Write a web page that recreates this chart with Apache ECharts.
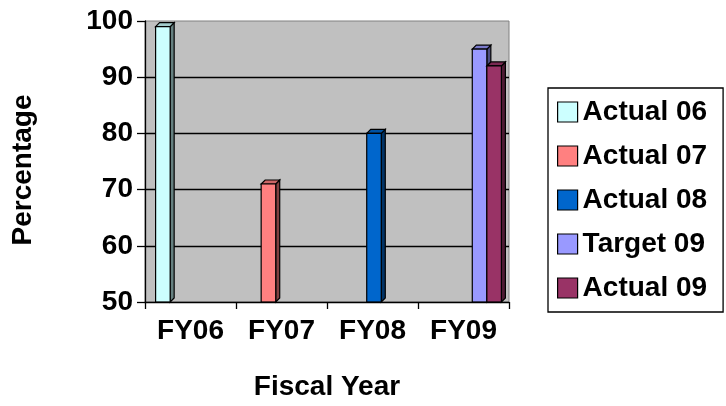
<!DOCTYPE html>
<html>
<head>
<meta charset="utf-8">
<script src="https://cdn.jsdelivr.net/npm/echarts@6/dist/echarts.min.js"></script>
<style>
html,body{margin:0;padding:0;background:#fff;}
#chart{width:726px;height:406px;}
</style>
</head>
<body>
<div id="chart"></div>
<script>
const categories = ['FY06', 'FY07', 'FY08', 'FY09'];
const seriesNames = ['Actual 06', 'Actual 07', 'Actual 08', 'Target 09', 'Actual 09'];
const actual06 = [99, null, null, null];
const actual07 = [null, 71, null, null];
const actual08 = [null, null, 80, null];
const target09 = [null, null, null, 95];
const actual09 = [null, null, null, 92];
const seriesValues = [actual06, actual07, actual08, target09, actual09];
const faceColors = ['#CCFFFF', '#FF8080', '#0066CC', '#9999FF', '#993366'];
const topColors = ['#A3CCCC', '#CC6666', '#0052A3', '#7A7ACC', '#7A2952'];
const sideColors = ['#668080', '#804040', '#003366', '#4D4D80', '#4D1A33'];

const FONT = '"Liberation Sans", Arial, sans-serif';
const N = seriesNames.length;

function makeRender(i) {
  return function (params, api) {
    const c = api.value(0);
    const v = api.value(1);
    const top = api.coord([c, v]);
    const base = api.coord([c, 50]);
    const catW = api.size([1, 0])[0];
    const barW = catW * 0.8 / N;
    const x0 = top[0] - catW * 0.4 + i * barW + 1.5;
    const x1 = x0 + barW;
    const yT = top[1];
    const yB = base[1];
    const d = 4;
    const stroke = {stroke: '#000', lineWidth: 1.2};
    return {
      type: 'group',
      children: [
        {type: 'polygon', shape: {points: [[x1, yT], [x1 + d, yT - d], [x1 + d, yB - d], [x1, yB]]},
         style: Object.assign({fill: sideColors[i]}, stroke)},
        {type: 'polygon', shape: {points: [[x0, yT], [x0 + d, yT - d], [x1 + d, yT - d], [x1, yT]]},
         style: Object.assign({fill: topColors[i]}, stroke)},
        {type: 'rect', shape: {x: x0, y: yT, width: barW, height: yB - yT},
         style: Object.assign({fill: faceColors[i]}, stroke)}
      ]
    };
  };
}

const chart = echarts.init(document.getElementById('chart'), null, {renderer: 'canvas'});
chart.setOption({
  backgroundColor: '#ffffff',
  animation: false,
  grid: {
    left: 145, right: 217, top: 21, bottom: 103,
    show: true,
    backgroundColor: '#C0C0C0',
    borderColor: '#808080',
    borderWidth: 1
  },
  legend: {
    orient: 'vertical',
    left: 548, top: 88,
    padding: [10, 16, 10, 9],
    itemGap: 16,
    itemWidth: 20, itemHeight: 20,
    itemTextGap: 9,
    borderColor: '#000', borderWidth: 1.3,
    backgroundColor: '#fff',
    icon: 'rect',
    itemStyle: {borderColor: '#000', borderWidth: 1.2},
    textStyle: {fontFamily: FONT, fontSize: 28, fontWeight: 'bold', color: '#000'},
    data: seriesNames
  },
  xAxis: {
    type: 'category',
    data: categories,
    name: 'Fiscal Year',
    nameLocation: 'middle',
    nameGap: 71,
    nameTextStyle: {fontFamily: FONT, fontSize: 28, fontWeight: 'bold', color: '#000'},
    axisLine: {lineStyle: {color: '#000', width: 1.3}},
    axisTick: {show: true, length: 7, lineStyle: {color: '#000', width: 1.3}},
    axisLabel: {fontFamily: FONT, fontSize: 28, fontWeight: 'bold', color: '#000', margin: 15},
    z: 5
  },
  yAxis: {
    type: 'value',
    min: 50, max: 100, interval: 10,
    name: 'Percentage',
    nameLocation: 'middle',
    nameGap: 108,
    nameTextStyle: {fontFamily: FONT, fontSize: 28, fontWeight: 'bold', color: '#000', padding: [0, 17, 0, 0]},
    axisLine: {show: true, lineStyle: {color: '#000', width: 1.3}},
    axisTick: {show: true, length: 8, lineStyle: {color: '#000', width: 1.3}},
    axisLabel: {fontFamily: FONT, fontSize: 28, fontWeight: 'bold', color: '#000', margin: 12},
    splitLine: {show: true, showMinLine: false, showMaxLine: false, lineStyle: {color: '#000', width: 1.3}}
  },
  series: seriesNames.map((name, i) => ({
    name: name,
    type: 'custom',
    renderItem: makeRender(i),
    encode: {x: 0, y: 1},
    itemStyle: {color: faceColors[i], borderColor: '#000', borderWidth: 1.2},
    data: seriesValues[i].map((v, c) => [c, v]).filter(p => p[1] !== null)
  }))
});
</script>
</body>
</html>
